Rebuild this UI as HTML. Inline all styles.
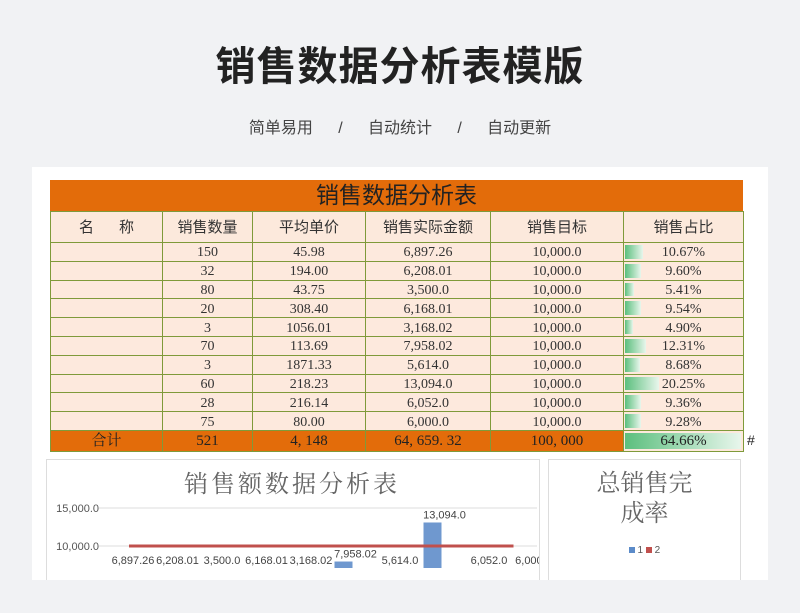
<!DOCTYPE html>
<html><head><meta charset="utf-8"><style>
*{margin:0;padding:0;box-sizing:border-box}
body{width:800px;height:613px;background:#f1f2f4;font-family:"Liberation Sans","Noto Sans CJK SC",sans-serif;position:relative;overflow:hidden}
#title{position:absolute;top:34px;left:0;width:800px;text-align:center;font-size:40px;font-weight:bold;color:#222;letter-spacing:1px}
#sub{position:absolute;top:114px;left:0;width:800px;text-align:center;font-size:16px;color:#444;word-spacing:4px}
#card{position:absolute;left:32px;top:167px;width:736px;height:413px;background:#fff}
table{position:absolute;left:50px;top:211px;border-collapse:collapse;font-family:"Liberation Serif","Noto Serif CJK SC",serif;font-size:14px;color:#333}
td{border:1.5px solid #7f9a3a;text-align:center;vertical-align:middle;background:#fde9dd;height:18.8px;padding:2px 0 0 0;line-height:15px}
tr.h td{height:31px;font-family:"Liberation Sans","Noto Sans CJK SC",sans-serif;font-size:15px;background:#fce9dc;padding:0}
tr.t td{background:#e36c0a;height:21px;color:#222;font-size:15px}
.pc{position:relative}
.pc i{position:absolute;left:1px;top:2px;bottom:2px;background:linear-gradient(90deg,#5cbf7e,#e8f6ec)}
.pc span{position:relative}
#band{position:absolute;left:50px;top:180px;width:693px;height:31px;background:#e36c0a;text-align:center;font-size:23px;line-height:31px;color:#222;font-family:"Liberation Sans","Noto Sans CJK SC",sans-serif}
#p1{position:absolute;left:46px;top:459px;width:494px;height:121px;border:1px solid #ddd;border-bottom:none;overflow:hidden}
#p2{position:absolute;left:548px;top:459px;width:193px;height:121px;border:1px solid #ddd;border-bottom:none;text-align:center}
</style></head><body>
<div id="title">销售数据分析表模版</div>
<div id="sub">简单易用 &nbsp;&nbsp;/&nbsp;&nbsp; 自动统计 &nbsp;&nbsp;/&nbsp;&nbsp; 自动更新</div>
<div id="card"></div>
<div id="band">销售数据分析表</div>
<table>
<colgroup><col style="width:112px"><col style="width:90px"><col style="width:113px"><col style="width:125px"><col style="width:133px"><col style="width:120px"></colgroup>
<tbody id="tb">
<tr class="h"><td>名&nbsp;&nbsp;&nbsp;&nbsp;&nbsp;&nbsp;称</td><td>销售数量</td><td>平均单价</td><td>销售实际金额</td><td>销售目标</td><td>销售占比</td></tr>
</tbody></table>
<span style="position:absolute;left:747px;top:432px;font-size:14px;color:#222">#</span>
<div id="p1">
<svg width="494" height="121" id="svg"></svg></div>
<div id="p2">
<div style="font-family:'Liberation Serif','Noto Serif CJK SC',serif;font-size:24px;color:#666;line-height:30px;margin-top:9px">总销售完<br>成率</div>
<div style="font-size:10px;color:#555;margin-top:16px"><span style="display:inline-block;width:6px;height:6px;background:#5b8bc9"></span> 1 <span style="display:inline-block;width:6px;height:6px;background:#c0504d"></span> 2</div>
</div>
<script>
const qty=[150,32,80,20,3,70,3,60,28,75];
const price=["45.98","194.00","43.75","308.40","1056.01","113.69","1871.33","218.23","216.14","80.00"];
const amountLabels=["6,897.26","6,208.01","3,500.0","6,168.01","3,168.02","7,958.02","5,614.0","13,094.0","6,052.0","6,000.0"];
const amounts=[6897.26,6208.01,3500,6168.01,3168.02,7958.02,5614,13094,6052,6000];
const share=[10.67,9.60,5.41,9.54,4.90,12.31,8.68,20.25,9.36,9.28];
const target=10000;
const tb=document.getElementById('tb');
for(let i=0;i<qty.length;i++){
 const tr=document.createElement('tr');
 
 
 tr.innerHTML=`<td></td><td>${qty[i]}</td><td>${price[i]}</td><td>${amountLabels[i]}</td><td>10,000.0</td><td class="pc"><i style="width:${share[i]/20.25*34}px"></i><span>${share[i].toFixed(2)}%</span></td>`;
 tb.appendChild(tr);
}
const tr=document.createElement('tr');tr.className='t';


tr.innerHTML=`<td>合计</td><td>521</td><td>4, 148</td><td>64, 659. 32</td><td>100, 000</td><td class="pc" style="background:#fde9dd"><i style="width:116px;background:linear-gradient(90deg,#5cbf7e,#e8f6ec)"></i><span>64.66%</span></td>`;
tb.appendChild(tr);
const ns='http://www.w3.org/2000/svg',svg=document.getElementById('svg');
const yTicks=[10000,15000];
const y=v=>86-(v-10000)/5000*38;
const x=i=>74+i*44.5;
function el(t,a,txt){const e=document.createElementNS(ns,t);for(const k in a)e.setAttribute(k,a[k]);if(txt!=null)e.textContent=txt;svg.appendChild(e);return e;}
const tt=el('text',{x:245,y:32,'text-anchor':'middle','font-size':24,fill:'#666','font-family':'Liberation Serif,Noto Serif CJK SC,serif','letter-spacing':3},'销售额数据分析表');

yTicks.forEach(v=>{
 const g=el('line',{x1:52,x2:490,y1:y(v),y2:y(v),stroke:'#ddd'});
 
 const t=el('text',{x:52,y:y(v)+4,'text-anchor':'end','font-size':11,fill:'#555'},v.toLocaleString('en-US',{minimumFractionDigits:1}));
 
});
amounts.forEach((v,i)=>{
 const b=el('rect',{x:x(i)-9,y:y(v),width:18,height:Math.max(0,108-y(v)),fill:'#6f98cf'});
 
 const t=el('text',{x:x(i)+12,y:Math.min(y(v)-4,104),'text-anchor':'middle','font-size':11,fill:'#444'},amountLabels[i]);
 
});
const ln=el('line',{x1:x(0)+8,x2:x(9)-8,y1:y(target),y2:y(target),stroke:'#c0504d','stroke-width':3});

</script>
</body></html>
